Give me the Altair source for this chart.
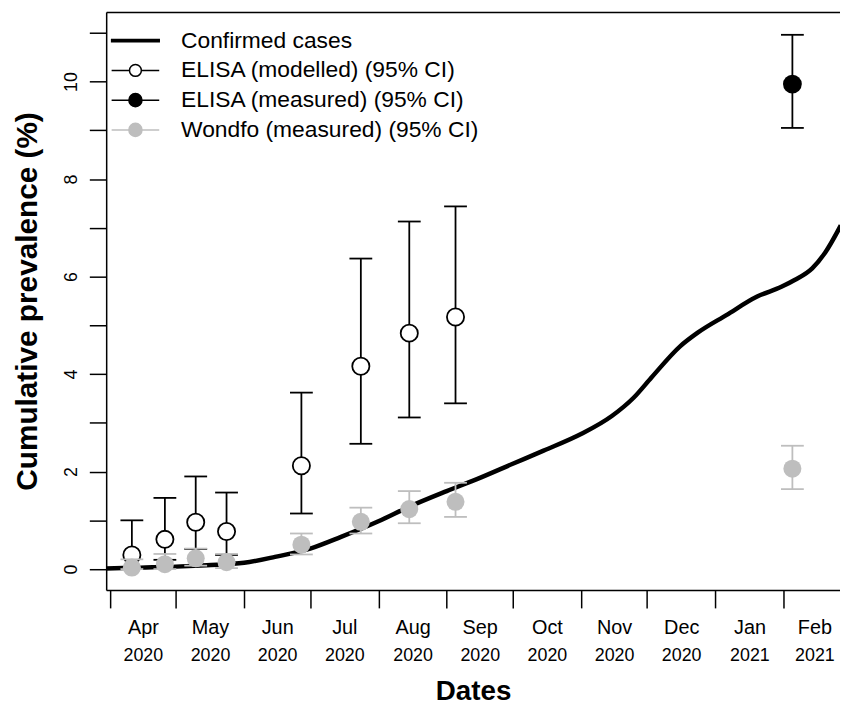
import altair as alt
import pandas as pd

FONT = "Liberation Sans"
GREY = "#bebebe"

# ---- data ----
curve_dates = ["2020-03-30", "2020-04-15", "2020-05-01", "2020-05-15", "2020-06-01",
               "2020-06-15", "2020-07-01", "2020-07-15", "2020-08-01", "2020-08-15",
               "2020-09-01", "2020-09-15", "2020-10-01", "2020-10-15", "2020-11-01",
               "2020-11-15", "2020-11-25", "2020-12-03", "2020-12-16", "2020-12-24",
               "2021-01-06", "2021-01-20", "2021-01-31", "2021-02-06", "2021-02-14",
               "2021-02-20", "2021-02-27"]
curve_values = [0.01, 0.03, 0.05, 0.08, 0.13, 0.25, 0.42, 0.66, 0.98, 1.28,
                1.60, 1.85, 2.16, 2.43, 2.77, 3.14, 3.52, 3.93, 4.57, 4.85,
                5.21, 5.59, 5.79, 5.93, 6.17, 6.50, 7.05]

sample_dates = ["2020-04-11", "2020-04-26", "2020-05-10", "2020-05-24",
                "2020-06-27", "2020-07-24", "2020-08-15", "2020-09-05"]
elisa_mod = [0.29, 0.61, 0.96, 0.77, 2.12, 4.16, 4.84, 5.17]
elisa_mod_lo = [0.00, 0.19, 0.41, 0.29, 1.14, 2.57, 3.11, 3.40]
elisa_mod_hi = [1.00, 1.46, 1.90, 1.57, 3.62, 6.37, 7.13, 7.44]

elisa_meas_dates = ["2021-02-05"]
elisa_meas = [9.95]
elisa_meas_lo = [9.05]
elisa_meas_hi = [10.96]

wondfo_dates = sample_dates + ["2021-02-05"]
wondfo = [0.03, 0.10, 0.22, 0.14, 0.50, 0.97, 1.23, 1.38, 2.06]
wondfo_lo = [0.00, 0.00, 0.07, 0.02, 0.30, 0.73, 0.94, 1.07, 1.64]
wondfo_hi = [0.20, 0.31, 0.42, 0.31, 0.73, 1.26, 1.60, 1.77, 2.53]

legend_labels = ["Confirmed cases", "ELISA (modelled) (95% CI)",
                 "ELISA (measured) (95% CI)", "Wondfo (measured) (95% CI)"]

month_starts = ["2020-04-01", "2020-05-01", "2020-06-01", "2020-07-01", "2020-08-01",
                "2020-09-01", "2020-10-01", "2020-11-01", "2020-12-01", "2021-01-01",
                "2021-02-01", "2021-03-01"]
y_ticks = list(range(0, 12))
x_start, x_end = "2020-03-30T08:00", "2021-02-26T15:00"
y_domain = [-0.43, 11.43]


def ms(s):
    return int(pd.Timestamp(s, tz="UTC").value // 10**6)


tick_vals = [ms(d) for d in month_starts[:-1]]
mid_vals = [(ms(a) + ms(b)) // 2 for a, b in zip(month_starts[:-1], month_starts[1:])]

curve_df = pd.DataFrame({"date": curve_dates, "v": curve_values})
mod_df = pd.DataFrame({"date": sample_dates, "v": elisa_mod, "lo": elisa_mod_lo, "hi": elisa_mod_hi})
meas_df = pd.DataFrame({"date": elisa_meas_dates, "v": elisa_meas, "lo": elisa_meas_lo, "hi": elisa_meas_hi})
won_df = pd.DataFrame({"date": wondfo_dates, "v": wondfo, "lo": wondfo_lo, "hi": wondfo_hi})
leg_df = pd.DataFrame({"series": legend_labels})

xscale = alt.Scale(type="utc", domain=[ms(x_start), ms(x_end)])
yscale = alt.Scale(domain=y_domain, zero=False, nice=False)

ax_ticks = alt.Axis(orient="bottom", values=tick_vals, labels=False, ticks=True, tickSize=18,
                    tickWidth=1.5, tickColor="black", domain=True, domainColor="black",
                    domainWidth=1.5, grid=False, title=None)
ax_month = alt.Axis(orient="bottom", values=mid_vals, ticks=False, tickSize=0, domain=False,
                    grid=False, labelExpr="utcFormat(datum.value, '%b')", labelFontSize=20,
                    labelPadding=38, labelBaseline="middle", labelAlign="center",
                    labelColor="black", labelFont=FONT, labelOverlap=False,
                    labelFlush=False, labelBound=False, title=None)
ax_year = alt.Axis(orient="bottom", values=mid_vals, ticks=False, tickSize=0, domain=False,
                   grid=False, labelExpr="utcFormat(datum.value, '%Y')", labelFontSize=18,
                   labelPadding=66, labelBaseline="middle", labelAlign="center",
                   labelColor="black", labelFont=FONT, labelOverlap=False,
                   labelFlush=False, labelBound=False,
                   title="Dates", titleFontSize=28, titleFontWeight="bold", titleFont=FONT,
                   titleColor="black", titleY=102, titleBaseline="middle")
ax_top = alt.Axis(orient="top", labels=False, ticks=False, domain=True, domainColor="black",
                  domainWidth=1.5, grid=False, title=None)
ay = alt.Axis(values=y_ticks, labelExpr="datum.value % 2 == 0 ? datum.label : ''",
              labelAngle=270, labelAlign="center", labelBaseline="middle", labelPadding=18,
              labelFontSize=18, labelFont=FONT, labelColor="black", labelOverlap=False,
              labelFlush=False, tickSize=17, tickWidth=1.5, tickColor="black",
              domainColor="black", domainWidth=1.5, grid=False,
              title="Cumulative prevalence (%)", titleFontSize=30, titleFontWeight="bold",
              titleFont=FONT, titleColor="black", titleAngle=270, titleX=-79, titleY=291.5,
              titleAlign="center", titleBaseline="middle")


def X(axis=None):
    return alt.X("date:T", scale=xscale, axis=axis)


def Y(field):
    return alt.Y(f"{field}:Q", scale=yscale, axis=ay)


line = alt.Chart(curve_df).mark_line(color="black", strokeWidth=4.5, interpolate="monotone",
                                     clip=True).encode(x=X(ax_ticks), y=Y("v"))


def bars(df, color, point_layer, axis_for_rule=None):
    rule = alt.Chart(df).mark_rule(color=color, strokeWidth=1.8).encode(
        x=X(axis_for_rule), y=Y("lo"), y2="hi:Q")
    cap_lo = alt.Chart(df).mark_tick(color=color, orient="horizontal", size=23,
                                     thickness=1.8, opacity=1).encode(x=X(), y=Y("lo"))
    cap_hi = alt.Chart(df).mark_tick(color=color, orient="horizontal", size=23,
                                     thickness=1.8, opacity=1).encode(x=X(), y=Y("hi"))
    return [rule, cap_lo, cap_hi, point_layer]


mod_pts = alt.Chart(mod_df).mark_point(shape="circle", size=300, fill="white", stroke="black",
                                       strokeWidth=1.8, opacity=1, filled=False).encode(
    x=X(ax_top), y=Y("v"))
meas_pts = alt.Chart(meas_df).mark_point(shape="circle", size=360, filled=True, color="black",
                                         opacity=1).encode(x=X(), y=Y("v"))
won_pts = alt.Chart(won_df).mark_point(shape="circle", size=330, filled=True, color=GREY,
                                       opacity=1).encode(x=X(ax_month), y=Y("v"))

circ = "M-2,0H-0.5M0.5,0H2M-0.5,0A0.5,0.5 0 1,1 0.5,0A0.5,0.5 0 1,1 -0.5,0"
circ_b = "M-2,0H-0.55M0.55,0H2M-0.55,0A0.55,0.55 0 1,1 0.55,0A0.55,0.55 0 1,1 -0.55,0"
leg_shapes = ["M-2,-0.1H2V0.1H-2Z", circ, circ_b, circ_b]
leg_fill = ["black", "transparent", "black", GREY]
leg_stroke = ["black", "black", "black", GREY]
legend = alt.Legend(title=None, orient="none", legendX=16.5, legendY=16, padding=0,
                    symbolSize=576, symbolStrokeWidth=1.5, symbolOpacity=1,
                    labelFontSize=23, labelFont=FONT, labelColor="black", labelOffset=33,
                    rowPadding=5, labelLimit=0)
leg = alt.Chart(leg_df).mark_point(opacity=1, strokeWidth=1.5).encode(
    shape=alt.Shape("series:N", scale=alt.Scale(domain=legend_labels, range=leg_shapes), legend=legend),
    fill=alt.Fill("series:N", scale=alt.Scale(domain=legend_labels, range=leg_fill), legend=legend),
    stroke=alt.Stroke("series:N", scale=alt.Scale(domain=legend_labels, range=leg_stroke), legend=legend),
).transform_filter("false")

layers = [line]
layers += bars(mod_df, "black", mod_pts)
layers += bars(meas_df, "black", meas_pts)
layers += bars(won_df, GREY, won_pts, axis_for_rule=ax_year)
layers += [leg]

chart = alt.layer(*layers).resolve_axis(x="independent").properties(
    width=740, height=583,
    padding={"left": 99, "top": 1, "right": 0, "bottom": 114},
    autosize=alt.AutoSizeParams(type="none"),
    background="white",
).configure_view(stroke=None).configure(font=FONT)

chart.save("out.html", embed_options={"renderer": "svg", "actions": False})
